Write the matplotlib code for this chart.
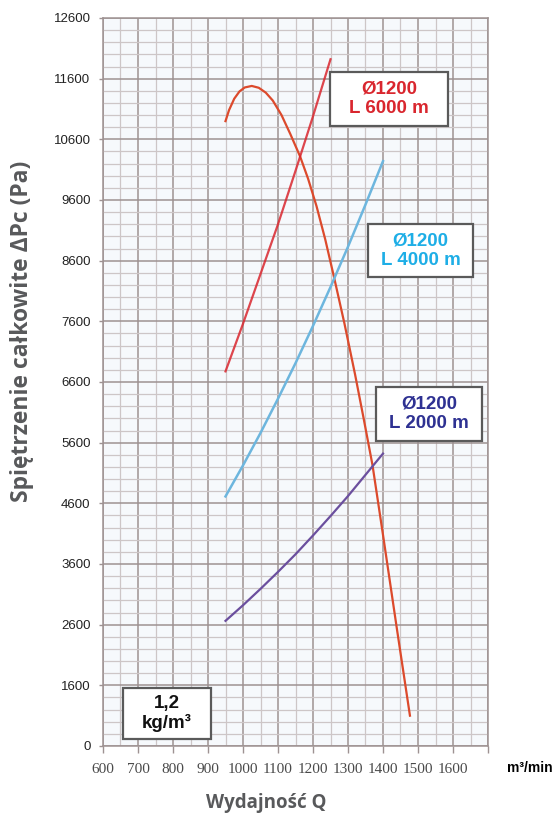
import numpy as np
import matplotlib.pyplot as plt
from matplotlib.ticker import MultipleLocator
from matplotlib.patches import Rectangle

# Krzywa wentylatora (spiętrzenie całkowite)
q_went = [950, 960, 975, 990, 1005, 1025, 1045, 1065, 1085, 1110, 1135, 1163, 1186,
          1210, 1235, 1260, 1290, 1320, 1345, 1370, 1400, 1440, 1477]
p_went = [10900, 11080, 11270, 11390, 11455, 11480, 11450, 11370, 11240, 11000, 10690,
          10320, 9950, 9500, 8950, 8330, 7560, 6730, 5990, 5230, 4080, 2520, 1100]

# Charakterystyki sieci, Ø1200
q_sieci = [950, 1000, 1050, 1100, 1150, 1200, 1250, 1300, 1350, 1400]
p_6000 = [6775, 7560, 8380, 9200, 10080, 10980, 11920]
p_4000 = [4714, 5225, 5760, 6325, 6910, 7525, 8165, 8830, 9525, 10240]
p_2000 = [2663, 2920, 3190, 3470, 3760, 4070, 4390, 4720, 5070, 5420]

# Osie
x_ticks = list(range(600, 1701, 100))
x_labels = [str(v) for v in range(600, 1601, 100)] + [""]
y_ticks = list(range(600, 12601, 1000))
y_labels = ["0"] + [str(v) for v in range(1600, 12601, 1000)]

kol_went = "#dc4a2c"
kol_6000 = "#d9262e"
kol_4000 = "#1eaee6"
kol_2000 = "#2e3192"

fig = plt.figure(figsize=(5.56, 8.18), dpi=100)
ax = fig.add_axes([103 / 556, 72 / 818, 385 / 556, 728 / 818])
ax.set_facecolor("#f6f9fc")

ax.set_xlim(600, 1700)
ax.set_ylim(600, 12600)
ax.set_xticks(x_ticks)
ax.set_xticklabels(x_labels, fontfamily="Liberation Serif", fontsize=11, color="#4a4a4a")
ax.set_yticks(y_ticks)
ax.set_yticklabels(y_labels, fontfamily="Liberation Sans", fontsize=9.5, color="#222222")
ax.xaxis.set_minor_locator(MultipleLocator(50))
ax.yaxis.set_minor_locator(MultipleLocator(200))

ax.grid(which="major", color="#9e9292", lw=1.1)
ax.grid(which="minor", color="#cdc6c7", lw=0.9)
ax.set_axisbelow(True)
ax.tick_params(axis="x", which="major", length=5, width=1, color="#9e9292", pad=7)
ax.tick_params(axis="y", which="major", length=3, width=1, color="#9e9292", pad=6)
ax.tick_params(which="minor", length=0)
for s in ax.spines.values():
    s.set_color("#9e9292")
    s.set_linewidth(1.1)

# Krzywe
ax.plot(q_went, p_went, color=kol_went, lw=1.6)
ax.plot(q_sieci[:len(p_6000)], p_6000, color=kol_6000, lw=1.6, alpha=0.85)
ax.plot(q_sieci, p_4000, color="#6db6de", lw=1.8)
ax.plot(q_sieci, p_2000, color="#6b4f9e", lw=1.6)

# Opisy w ramkach
def ramka(x0, y0, w, h, tekst, kolor):
    ax.add_patch(Rectangle((x0, y0), w, h, transform=ax.transAxes, facecolor="white",
                           edgecolor="#5a5a5a", lw=1.6, zorder=5))
    ax.text(x0 + w / 2, y0 + h / 2, tekst, transform=ax.transAxes, ha="center", va="center",
            fontfamily="Liberation Sans", fontweight="bold", fontsize=13.5, color=kolor,
            linespacing=1.2, zorder=6)

ramka(0.5896, 0.8516, 0.3065, 0.0742, "Ø1200\nL 6000 m", kol_6000)
ramka(0.6883, 0.6442, 0.2727, 0.0728, "Ø1200\nL 4000 m", kol_4000)
ramka(0.7091, 0.4190, 0.2753, 0.0742, "Ø1200\nL 2000 m", kol_2000)
ramka(0.052, 0.0096, 0.2286, 0.070, "1,2\nkg/m³", "#111111")

fig.text(507 / 556, 1 - 768 / 818, "m³/min", ha="left", va="center",
         fontfamily="Liberation Sans", fontweight="bold", fontsize=10)
fig.text(266 / 556, 1 - 803 / 818, "Wydajność Q", ha="center", va="center",
         fontfamily="Open Sans", fontweight="bold", fontsize=13.5, color="#58595b")
fig.text(22 / 556, 1 - 331 / 818, "Spiętrzenie całkowite ΔPc (Pa)", ha="center", va="center",
         rotation=90, fontfamily="Open Sans", fontweight="bold", fontsize=16.5, color="#58595b")

fig.savefig("out.png", dpi=100)
